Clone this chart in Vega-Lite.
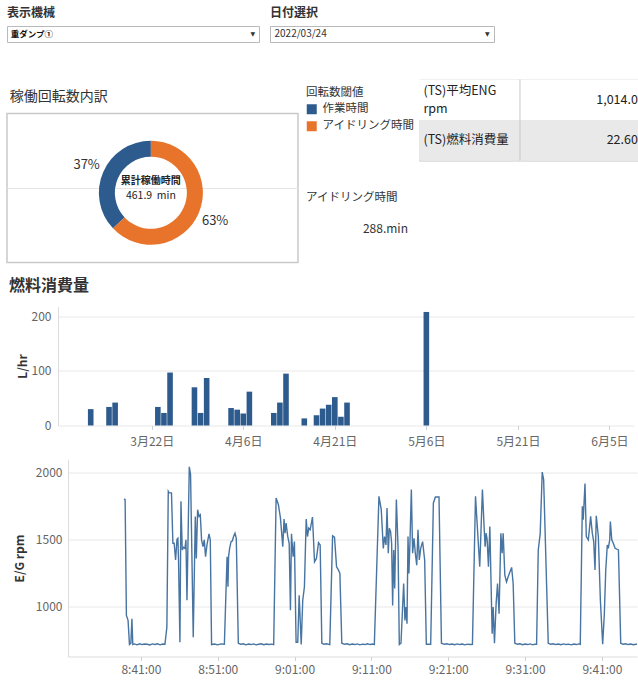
{
"$schema": "https://vega.github.io/schema/vega-lite/v6.json",
"background": "white",
"padding": {"left": 6, "top": 6, "right": 0, "bottom": 0},
"spacing": 13.5,
"vconcat": [
 {"spacing": 35.5, "vconcat": [
  {"spacing": 9, "hconcat": [
   {"title": {"text": "表示機械", "fontSize": 12, "fontWeight": "bold", "offset": 6, "frame": "group"},
    "width": 252, "height": 16,
    "view": {"stroke": "#b9b9b9", "fill": "white"},
    "data": {"values": [{"機械": "重ダンプ①"}]},
    "layer": [
     {"mark": {"type": "text", "align": "left", "fontSize": 8.5, "fontWeight": "bold", "color": "#111"},
      "encoding": {"x": {"datum": 0.015, "type": "quantitative", "scale": {"domain": [0, 1]}, "axis": null}, "text": {"field": "機械"}}},
     {"mark": {"type": "text", "text": "▼", "fontSize": 6, "font": "DejaVu Sans", "color": "#333"},
      "encoding": {"x": {"datum": 0.975, "type": "quantitative", "axis": null}}}
    ]},
   {"title": {"text": "日付選択", "fontSize": 12, "fontWeight": "bold", "offset": 6, "frame": "group"},
    "width": 224, "height": 16,
    "view": {"stroke": "#b9b9b9", "fill": "white"},
    "data": {"values": [{"日付": "2022/03/24"}]},
    "layer": [
     {"mark": {"type": "text", "align": "left", "fontSize": 10, "color": "#333"},
      "encoding": {"x": {"datum": 0.02, "type": "quantitative", "scale": {"domain": [0, 1]}, "axis": null}, "text": {"field": "日付"}}},
     {"mark": {"type": "text", "text": "▼", "fontSize": 6, "font": "DejaVu Sans", "color": "#333"},
      "encoding": {"x": {"datum": 0.97, "type": "quantitative", "axis": null}}}
    ]}
  ]},
  {"spacing": 8, "hconcat": [
   {"width": 403, "height": 183,
    "data": {"values": [{}]},
    "layer": [
     {"mark": {"type": "rect", "fill": "white", "stroke": "#c9c9c9", "strokeWidth": 1.5},
      "encoding": {"x": {"datum": 0, "type": "quantitative", "scale": {"domain": [0, 1]}, "axis": null}, "x2": {"datum": 0.722},
                   "y": {"datum": 0, "type": "quantitative", "scale": {"domain": [0, 1]}, "axis": null}, "y2": {"datum": 0.814}}},
     {"mark": {"type": "rule", "color": "#e4e4e4"},
      "encoding": {"x": {"datum": 0, "type": "quantitative", "axis": null}, "x2": {"datum": 0.722}, "y": {"datum": 0.404, "type": "quantitative", "axis": null}}},
     {"data": {"values": [{"区分": "作業時間", "割合": 0.37}, {"区分": "アイドリング時間", "割合": 0.63}]},
      "mark": {"type": "arc", "outerRadius": 52, "innerRadius": 36},
      "encoding": {
       "theta": {"field": "割合", "type": "quantitative", "stack": true},
       "order": {"field": "区分", "sort": "ascending"},
       "color": {"field": "区分", "type": "nominal", "scale": {"domain": ["作業時間", "アイドリング時間"], "range": ["#2e5b8d", "#e8742b"]},
                 "legend": {"orient": "none", "legendX": 299, "legendY": 61, "title": "回転数閾値", "titleFontSize": 11.5, "titleFontWeight": "normal", "titleColor": "#333", "labelFontSize": 11.5, "labelColor": "#333", "symbolType": "square", "symbolSize": 100, "symbolStrokeWidth": 0, "symbolOpacity": 1, "rowPadding": 4, "titlePadding": 5, "labelOffset": 5}},
       "x": {"datum": 0.357, "type": "quantitative", "axis": null},
       "y": {"datum": 0.381, "type": "quantitative", "axis": null}}},
     {"data": {"values": [{"区分": "作業時間", "割合": 0.37}, {"区分": "アイドリング時間", "割合": 0.63}]},
      "mark": {"type": "text", "radius": 70, "fontSize": 13, "color": "#333"},
      "encoding": {
       "theta": {"field": "割合", "type": "quantitative", "stack": true},
       "order": {"field": "区分", "sort": "ascending"},
       "text": {"field": "割合", "format": ".0%"},
       "x": {"datum": 0.357, "type": "quantitative", "axis": null},
       "y": {"datum": 0.381, "type": "quantitative", "axis": null}}},
     {"mark": {"type": "text", "text": "累計稼働時間", "fontSize": 10, "fontWeight": "bold", "color": "#222"},
      "encoding": {"x": {"datum": 0.357, "type": "quantitative", "axis": null}, "y": {"datum": 0.444, "type": "quantitative", "axis": null}}},
     {"mark": {"type": "text", "text": "461.9\u00a0\u00a0min", "fontSize": 10.5, "color": "#222"},
      "encoding": {"x": {"datum": 0.357, "type": "quantitative", "axis": null}, "y": {"datum": 0.362, "type": "quantitative", "axis": null}}},
     {"mark": {"type": "text", "text": "稼働回転数内訳", "fontSize": 14, "align": "left", "color": "#333"},
      "encoding": {"x": {"datum": 0.007, "type": "quantitative", "axis": null}, "y": {"datum": 0.907, "type": "quantitative", "axis": null}}},
     {"mark": {"type": "text", "text": "アイドリング時間", "fontSize": 11.5, "align": "left", "color": "#333"},
      "encoding": {"x": {"datum": 0.742, "type": "quantitative", "axis": null}, "y": {"datum": 0.355, "type": "quantitative", "axis": null}}},
     {"mark": {"type": "text", "text": "288.min", "fontSize": 12, "align": "right", "color": "#333"},
      "encoding": {"x": {"datum": 0.995, "type": "quantitative", "axis": null}, "y": {"datum": 0.183, "type": "quantitative", "axis": null}}}
    ]},
   {"width": 220, "height": 81,
    "view": {"stroke": "#c6c6c6"},
    "data": {"values": [{"指標": "(TS)平均ENG\nrpm", "値": "1,014.0"}, {"指標": "(TS)燃料消費量", "値": "22.60"}]},
    "layer": [
     {"mark": {"type": "rect"},
      "encoding": {"x": {"datum": 0, "type": "quantitative", "scale": {"domain": [0, 1]}, "axis": null}, "x2": {"datum": 1},
                   "y": {"field": "指標", "type": "nominal", "sort": null, "scale": {"paddingInner": 0, "paddingOuter": 0}, "axis": null},
                   "fill": {"condition": {"test": "datum['指標'] === '(TS)燃料消費量'", "value": "#e9e9e9"}, "value": "#ffffff"}}},
     {"transform": [{"filter": "datum['指標'] !== '(TS)燃料消費量'"}],
      "mark": {"type": "text", "align": "left", "fontSize": 12.5, "color": "#222", "lineBreak": "\n", "lineHeight": 18, "dy": -9},
      "encoding": {"x": {"datum": 0.02, "type": "quantitative", "axis": null}, "y": {"field": "指標", "type": "nominal", "sort": null, "axis": null}, "text": {"field": "指標"}}},
     {"transform": [{"filter": "datum['指標'] === '(TS)燃料消費量'"}],
      "mark": {"type": "text", "align": "left", "fontSize": 12.5, "color": "#222"},
      "encoding": {"x": {"datum": 0.02, "type": "quantitative", "axis": null}, "y": {"field": "指標", "type": "nominal", "sort": null, "axis": null}, "text": {"field": "指標"}}},
     {"mark": {"type": "text", "align": "right", "fontSize": 12.5, "color": "#222"},
      "encoding": {"x": {"datum": 0.995, "type": "quantitative", "axis": null}, "y": {"field": "指標", "type": "nominal", "sort": null, "axis": null}, "text": {"field": "値"}}},
     {"data": {"values": [{}]}, "mark": {"type": "rule", "color": "#c6c6c6"},
      "encoding": {"x": {"datum": 0.459, "type": "quantitative", "axis": null}}}
    ]}
  ]}
 ]},
 {"spacing": 9, "vconcat": [
 {"title": {"text": "燃料消費量", "fontSize": 16, "fontWeight": "bold", "offset": 10, "anchor": "start", "frame": "group", "dx": 2},
  "spacing": 0, "hconcat": [
  {"width": 9, "height": 1, "data": {"values": [{}]}, "mark": {"type": "point", "opacity": 0}, "encoding": {}},
  {"width": 576, "height": 119,
   "data": {"values": [
    {"日付": "2022-03-12T00:00:00", "燃料": 30},
    {"日付": "2022-03-15T00:00:00", "燃料": 34},
    {"日付": "2022-03-16T00:00:00", "燃料": 42},
    {"日付": "2022-03-23T00:00:00", "燃料": 34},
    {"日付": "2022-03-24T00:00:00", "燃料": 23},
    {"日付": "2022-03-25T00:00:00", "燃料": 97},
    {"日付": "2022-03-29T00:00:00", "燃料": 70},
    {"日付": "2022-03-30T00:00:00", "燃料": 23},
    {"日付": "2022-03-31T00:00:00", "燃料": 87},
    {"日付": "2022-04-04T00:00:00", "燃料": 32},
    {"日付": "2022-04-05T00:00:00", "燃料": 29},
    {"日付": "2022-04-06T00:00:00", "燃料": 22},
    {"日付": "2022-04-07T00:00:00", "燃料": 62},
    {"日付": "2022-04-11T00:00:00", "燃料": 23},
    {"日付": "2022-04-12T00:00:00", "燃料": 42},
    {"日付": "2022-04-13T00:00:00", "燃料": 95},
    {"日付": "2022-04-16T00:00:00", "燃料": 13},
    {"日付": "2022-04-18T00:00:00", "燃料": 19},
    {"日付": "2022-04-19T00:00:00", "燃料": 31},
    {"日付": "2022-04-20T00:00:00", "燃料": 38},
    {"日付": "2022-04-21T00:00:00", "燃料": 52},
    {"日付": "2022-04-22T00:00:00", "燃料": 16},
    {"日付": "2022-04-23T00:00:00", "燃料": 42},
    {"日付": "2022-05-06T00:00:00", "燃料": 208}
   ]},
   "mark": {"type": "bar", "width": 5.6, "color": "#2e5b8d"},
   "encoding": {
    "x": {"field": "日付", "type": "temporal",
          "scale": {"domain": [{"year": 2022, "month": 3, "date": 7, "hours": 11}, {"year": 2022, "month": 6, "date": 8, "hours": 5}]},
          "axis": {"values": [{"year": 2022, "month": 3, "date": 22}, {"year": 2022, "month": 4, "date": 6}, {"year": 2022, "month": 4, "date": 21}, {"year": 2022, "month": 5, "date": 6}, {"year": 2022, "month": 5, "date": 21}, {"year": 2022, "month": 6, "date": 5}],
                   "format": "%-m月%-d日", "title": null, "grid": false, "domain": false, "ticks": true, "tickSize": 4, "labelPadding": 7}},
    "y": {"field": "燃料", "type": "quantitative", "scale": {"domain": [0, 218], "nice": false},
          "axis": {"values": [0, 100, 200], "title": "L/hr", "grid": true, "ticks": false, "labelPadding": 7, "titlePadding": 2, "domain": true}}
   }}
 ]},
 {"spacing": 0, "hconcat": [
  {"width": 6, "height": 1, "data": {"values": [{}]}, "mark": {"type": "point", "opacity": 0}, "encoding": {}},
  {"width": 569, "height": 197,
   "data": {"values": [
    {"時刻": "2022-03-24T08:38:49", "回転数": 1805}, {"時刻": "2022-03-24T08:38:57", "回転数": 1800}, {"時刻": "2022-03-24T08:39:07", "回転数": 937}, {"時刻": "2022-03-24T08:39:20", "回転数": 900}, {"時刻": "2022-03-24T08:39:31", "回転数": 720}, {"時刻": "2022-03-24T08:39:42", "回転数": 730}, {"時刻": "2022-03-24T08:39:50", "回転数": 912}, {"時刻": "2022-03-24T08:39:57", "回転数": 720},
    {"時刻": "2022-03-24T08:40:10", "回転数": 725}, {"時刻": "2022-03-24T08:40:30", "回転数": 718}, {"時刻": "2022-03-24T08:40:50", "回転数": 726}, {"時刻": "2022-03-24T08:41:10", "回転数": 720}, {"時刻": "2022-03-24T08:41:30", "回転数": 724}, {"時刻": "2022-03-24T08:41:50", "回転数": 722}, {"時刻": "2022-03-24T08:42:10", "回転数": 717}, {"時刻": "2022-03-24T08:42:30", "回転数": 725}, {"時刻": "2022-03-24T08:42:50", "回転数": 721}, {"時刻": "2022-03-24T08:43:10", "回転数": 726}, {"時刻": "2022-03-24T08:43:30", "回転数": 718}, {"時刻": "2022-03-24T08:43:50", "回転数": 724}, {"時刻": "2022-03-24T08:44:08", "回転数": 722},
    {"時刻": "2022-03-24T08:44:23", "回転数": 850}, {"時刻": "2022-03-24T08:44:34", "回転数": 1862}, {"時刻": "2022-03-24T08:44:41", "回転数": 1850}, {"時刻": "2022-03-24T08:44:59", "回転数": 1850}, {"時刻": "2022-03-24T08:45:10", "回転数": 1475}, {"時刻": "2022-03-24T08:45:20", "回転数": 1475}, {"時刻": "2022-03-24T08:45:31", "回転数": 1350}, {"時刻": "2022-03-24T08:45:42", "回転数": 1505}, {"時刻": "2022-03-24T08:45:49", "回転数": 1512}, {"時刻": "2022-03-24T08:45:54", "回転数": 1350}, {"時刻": "2022-03-24T08:46:05", "回転数": 737}, {"時刻": "2022-03-24T08:46:13", "回転数": 1787}, {"時刻": "2022-03-24T08:46:23", "回転数": 1425}, {"時刻": "2022-03-24T08:46:33", "回転数": 1445}, {"時刻": "2022-03-24T08:46:44", "回転数": 1437}, {"時刻": "2022-03-24T08:46:52", "回転数": 1500}, {"時刻": "2022-03-24T08:47:00", "回転数": 1050}, {"時刻": "2022-03-24T08:47:10", "回転数": 1600}, {"時刻": "2022-03-24T08:47:18", "回転数": 2045}, {"時刻": "2022-03-24T08:47:28", "回転数": 1987}, {"時刻": "2022-03-24T08:47:49", "回転数": 775}, {"時刻": "2022-03-24T08:48:05", "回転数": 1675}, {"時刻": "2022-03-24T08:48:13", "回転数": 1362}, {"時刻": "2022-03-24T08:48:23", "回転数": 1725}, {"時刻": "2022-03-24T08:48:34", "回転数": 1675}, {"時刻": "2022-03-24T08:48:44", "回転数": 1687}, {"時刻": "2022-03-24T08:48:54", "回転数": 1500}, {"時刻": "2022-03-24T08:49:05", "回転数": 1450}, {"時刻": "2022-03-24T08:49:15", "回転数": 1500}, {"時刻": "2022-03-24T08:49:25", "回転数": 1375}, {"時刻": "2022-03-24T08:49:36", "回転数": 1462}, {"時刻": "2022-03-24T08:49:52", "回転数": 1545}, {"時刻": "2022-03-24T08:50:02", "回転数": 1500},
    {"時刻": "2022-03-24T08:50:12", "回転数": 720}, {"時刻": "2022-03-24T08:50:35", "回転数": 724}, {"時刻": "2022-03-24T08:51:00", "回転数": 718}, {"時刻": "2022-03-24T08:51:25", "回転数": 725}, {"時刻": "2022-03-24T08:51:52", "回転数": 722},
    {"時刻": "2022-03-24T08:52:13", "回転数": 1375}, {"時刻": "2022-03-24T08:52:20", "回転数": 1150}, {"時刻": "2022-03-24T08:52:25", "回転数": 1375}, {"時刻": "2022-03-24T08:52:33", "回転数": 1437}, {"時刻": "2022-03-24T08:52:44", "回転数": 1487}, {"時刻": "2022-03-24T08:52:54", "回転数": 1492}, {"時刻": "2022-03-24T08:53:04", "回転数": 1525}, {"時刻": "2022-03-24T08:53:15", "回転数": 1550}, {"時刻": "2022-03-24T08:53:25", "回転数": 1512},
    {"時刻": "2022-03-24T08:53:41", "回転数": 730}, {"時刻": "2022-03-24T08:54:00", "回転数": 722}, {"時刻": "2022-03-24T08:54:20", "回転数": 726}, {"時刻": "2022-03-24T08:54:40", "回転数": 718}, {"時刻": "2022-03-24T08:55:00", "回転数": 724}, {"時刻": "2022-03-24T08:55:20", "回転数": 720}, {"時刻": "2022-03-24T08:55:40", "回転数": 725}, {"時刻": "2022-03-24T08:56:00", "回転数": 718}, {"時刻": "2022-03-24T08:56:20", "回転数": 722}, {"時刻": "2022-03-24T08:56:40", "回転数": 726}, {"時刻": "2022-03-24T08:57:00", "回転数": 719}, {"時刻": "2022-03-24T08:57:20", "回転数": 724}, {"時刻": "2022-03-24T08:57:40", "回転数": 720}, {"時刻": "2022-03-24T08:58:00", "回転数": 723}, {"時刻": "2022-03-24T08:58:17", "回転数": 720},
    {"時刻": "2022-03-24T08:58:36", "回転数": 1812}, {"時刻": "2022-03-24T08:58:54", "回転数": 1762}, {"時刻": "2022-03-24T08:59:10", "回転数": 1662}, {"時刻": "2022-03-24T08:59:28", "回転数": 1450}, {"時刻": "2022-03-24T08:59:38", "回転数": 1655}, {"時刻": "2022-03-24T08:59:46", "回転数": 1550}, {"時刻": "2022-03-24T08:59:54", "回転数": 1625}, {"時刻": "2022-03-24T09:00:07", "回転数": 1525}, {"時刻": "2022-03-24T09:00:18", "回転数": 1475}, {"時刻": "2022-03-24T09:00:28", "回転数": 975}, {"時刻": "2022-03-24T09:00:36", "回転数": 1545}, {"時刻": "2022-03-24T09:00:49", "回転数": 1375}, {"時刻": "2022-03-24T09:00:59", "回転数": 1487}, {"時刻": "2022-03-24T09:01:12", "回転数": 737}, {"時刻": "2022-03-24T09:01:25", "回転数": 737}, {"時刻": "2022-03-24T09:01:36", "回転数": 1087}, {"時刻": "2022-03-24T09:01:52", "回転数": 720}, {"時刻": "2022-03-24T09:02:04", "回転数": 1050}, {"時刻": "2022-03-24T09:02:17", "回転数": 1150}, {"時刻": "2022-03-24T09:02:31", "回転数": 1655}, {"時刻": "2022-03-24T09:02:41", "回転数": 1525}, {"時刻": "2022-03-24T09:02:51", "回転数": 1587}, {"時刻": "2022-03-24T09:03:02", "回転数": 1575}, {"時刻": "2022-03-24T09:03:20", "回転数": 1670}, {"時刻": "2022-03-24T09:03:36", "回転数": 1337}, {"時刻": "2022-03-24T09:03:51", "回転数": 1362}, {"時刻": "2022-03-24T09:04:07", "回転数": 1480}, {"時刻": "2022-03-24T09:04:20", "回転数": 1462},
    {"時刻": "2022-03-24T09:04:33", "回転数": 730}, {"時刻": "2022-03-24T09:04:50", "回転数": 722}, {"時刻": "2022-03-24T09:05:10", "回転数": 726}, {"時刻": "2022-03-24T09:05:35", "回転数": 720},
    {"時刻": "2022-03-24T09:05:57", "回転数": 1530}, {"時刻": "2022-03-24T09:06:12", "回転数": 1520}, {"時刻": "2022-03-24T09:06:28", "回転数": 1300}, {"時刻": "2022-03-24T09:06:43", "回転数": 1275}, {"時刻": "2022-03-24T09:06:54", "回転数": 1250},
    {"時刻": "2022-03-24T09:07:09", "回転数": 730}, {"時刻": "2022-03-24T09:07:30", "回転数": 722}, {"時刻": "2022-03-24T09:07:50", "回転数": 726}, {"時刻": "2022-03-24T09:08:10", "回転数": 719}, {"時刻": "2022-03-24T09:08:30", "回転数": 724}, {"時刻": "2022-03-24T09:08:50", "回転数": 720}, {"時刻": "2022-03-24T09:09:10", "回転数": 725}, {"時刻": "2022-03-24T09:09:30", "回転数": 718}, {"時刻": "2022-03-24T09:09:50", "回転数": 723}, {"時刻": "2022-03-24T09:10:10", "回転数": 720}, {"時刻": "2022-03-24T09:10:30", "回転数": 726}, {"時刻": "2022-03-24T09:10:50", "回転数": 720}, {"時刻": "2022-03-24T09:11:10", "回転数": 724}, {"時刻": "2022-03-24T09:11:23", "回転数": 720},
    {"時刻": "2022-03-24T09:11:59", "回転数": 1825}, {"時刻": "2022-03-24T09:12:17", "回転数": 1725}, {"時刻": "2022-03-24T09:12:33", "回転数": 1437}, {"時刻": "2022-03-24T09:12:43", "回転数": 1525}, {"時刻": "2022-03-24T09:12:54", "回転数": 1462}, {"時刻": "2022-03-24T09:13:02", "回転数": 1737}, {"時刻": "2022-03-24T09:13:12", "回転数": 1400}, {"時刻": "2022-03-24T09:13:20", "回転数": 1587}, {"時刻": "2022-03-24T09:13:30", "回転数": 1562}, {"時刻": "2022-03-24T09:13:38", "回転数": 1475}, {"時刻": "2022-03-24T09:13:46", "回転数": 1012}, {"時刻": "2022-03-24T09:13:54", "回転数": 1425}, {"時刻": "2022-03-24T09:14:02", "回転数": 1137}, {"時刻": "2022-03-24T09:14:15", "回転数": 1800}, {"時刻": "2022-03-24T09:14:28", "回転数": 1450}, {"時刻": "2022-03-24T09:14:38", "回転数": 720}, {"時刻": "2022-03-24T09:14:51", "回転数": 730}, {"時刻": "2022-03-24T09:15:12", "回転数": 1175}, {"時刻": "2022-03-24T09:15:22", "回転数": 900}, {"時刻": "2022-03-24T09:15:30", "回転数": 1000}, {"時刻": "2022-03-24T09:15:38", "回転数": 875}, {"時刻": "2022-03-24T09:15:46", "回転数": 1525}, {"時刻": "2022-03-24T09:15:53", "回転数": 1250}, {"時刻": "2022-03-24T09:16:01", "回転数": 1475}, {"時刻": "2022-03-24T09:16:12", "回転数": 1875}, {"時刻": "2022-03-24T09:16:22", "回転数": 1400}, {"時刻": "2022-03-24T09:16:33", "回転数": 1512}, {"時刻": "2022-03-24T09:16:43", "回転数": 1400}, {"時刻": "2022-03-24T09:16:54", "回転数": 1312}, {"時刻": "2022-03-24T09:17:04", "回転数": 1575}, {"時刻": "2022-03-24T09:17:14", "回転数": 1350}, {"時刻": "2022-03-24T09:17:25", "回転数": 1437}, {"時刻": "2022-03-24T09:17:40", "回転数": 1487}, {"時刻": "2022-03-24T09:17:56", "回転数": 1350}, {"時刻": "2022-03-24T09:18:09", "回転数": 722}, {"時刻": "2022-03-24T09:18:43", "回転数": 722}, {"時刻": "2022-03-24T09:19:04", "回転数": 1775}, {"時刻": "2022-03-24T09:19:20", "回転数": 1820}, {"時刻": "2022-03-24T09:19:48", "回転数": 1820},
    {"時刻": "2022-03-24T09:20:07", "回転数": 730}, {"時刻": "2022-03-24T09:20:30", "回転数": 722}, {"時刻": "2022-03-24T09:20:50", "回転数": 726}, {"時刻": "2022-03-24T09:21:10", "回転数": 720}, {"時刻": "2022-03-24T09:21:30", "回転数": 724}, {"時刻": "2022-03-24T09:21:50", "回転数": 719}, {"時刻": "2022-03-24T09:22:10", "回転数": 725}, {"時刻": "2022-03-24T09:22:30", "回転数": 720}, {"時刻": "2022-03-24T09:22:50", "回転数": 724}, {"時刻": "2022-03-24T09:23:10", "回転数": 718}, {"時刻": "2022-03-24T09:23:30", "回転数": 723}, {"時刻": "2022-03-24T09:23:50", "回転数": 720}, {"時刻": "2022-03-24T09:24:09", "回転数": 722},
    {"時刻": "2022-03-24T09:24:33", "回転数": 1825}, {"時刻": "2022-03-24T09:25:06", "回転数": 1300}, {"時刻": "2022-03-24T09:25:27", "回転数": 1875}, {"時刻": "2022-03-24T09:25:40", "回転数": 1600}, {"時刻": "2022-03-24T09:25:48", "回転数": 1450}, {"時刻": "2022-03-24T09:25:56", "回転数": 1550}, {"時刻": "2022-03-24T09:26:04", "回転数": 1500}, {"時刻": "2022-03-24T09:26:14", "回転数": 1300}, {"時刻": "2022-03-24T09:26:25", "回転数": 1600}, {"時刻": "2022-03-24T09:26:35", "回転数": 1150}, {"時刻": "2022-03-24T09:26:43", "回転数": 800}, {"時刻": "2022-03-24T09:26:51", "回転数": 1000}, {"時刻": "2022-03-24T09:27:01", "回転数": 730}, {"時刻": "2022-03-24T09:27:14", "回転数": 1025}, {"時刻": "2022-03-24T09:27:25", "回転数": 1175}, {"時刻": "2022-03-24T09:27:37", "回転数": 950}, {"時刻": "2022-03-24T09:27:51", "回転数": 1550}, {"時刻": "2022-03-24T09:28:01", "回転数": 1400}, {"時刻": "2022-03-24T09:28:09", "回転数": 1550}, {"時刻": "2022-03-24T09:28:22", "回転数": 1237}, {"時刻": "2022-03-24T09:28:35", "回転数": 1187}, {"時刻": "2022-03-24T09:28:48", "回転数": 1225}, {"時刻": "2022-03-24T09:29:15", "回転数": 1295}, {"時刻": "2022-03-24T09:29:27", "回転数": 1175},
    {"時刻": "2022-03-24T09:29:40", "回転数": 730}, {"時刻": "2022-03-24T09:30:00", "回転数": 722}, {"時刻": "2022-03-24T09:30:20", "回転数": 726}, {"時刻": "2022-03-24T09:30:40", "回転数": 719}, {"時刻": "2022-03-24T09:31:00", "回転数": 724}, {"時刻": "2022-03-24T09:31:20", "回転数": 720}, {"時刻": "2022-03-24T09:31:40", "回転数": 725}, {"時刻": "2022-03-24T09:32:00", "回転数": 718}, {"時刻": "2022-03-24T09:32:15", "回転数": 723}, {"時刻": "2022-03-24T09:32:30", "回転数": 722},
    {"時刻": "2022-03-24T09:32:43", "回転数": 1425}, {"時刻": "2022-03-24T09:32:58", "回転数": 1545}, {"時刻": "2022-03-24T09:33:14", "回転数": 2005}, {"時刻": "2022-03-24T09:33:25", "回転数": 1950},
    {"時刻": "2022-03-24T09:34:01", "回転数": 730}, {"時刻": "2022-03-24T09:34:20", "回転数": 722}, {"時刻": "2022-03-24T09:34:40", "回転数": 726}, {"時刻": "2022-03-24T09:35:00", "回転数": 720}, {"時刻": "2022-03-24T09:35:20", "回転数": 724}, {"時刻": "2022-03-24T09:35:40", "回転数": 719}, {"時刻": "2022-03-24T09:36:00", "回転数": 725}, {"時刻": "2022-03-24T09:36:20", "回転数": 720}, {"時刻": "2022-03-24T09:36:40", "回転数": 723}, {"時刻": "2022-03-24T09:37:00", "回転数": 718}, {"時刻": "2022-03-24T09:37:20", "回転数": 724}, {"時刻": "2022-03-24T09:37:40", "回転数": 720}, {"時刻": "2022-03-24T09:38:00", "回転数": 725}, {"時刻": "2022-03-24T09:38:11", "回転数": 722},
    {"時刻": "2022-03-24T09:38:27", "回転数": 1750}, {"時刻": "2022-03-24T09:38:34", "回転数": 1650}, {"時刻": "2022-03-24T09:38:48", "回転数": 1920}, {"時刻": "2022-03-24T09:38:58", "回転数": 1525}, {"時刻": "2022-03-24T09:39:14", "回転数": 1500}, {"時刻": "2022-03-24T09:39:32", "回転数": 1675}, {"時刻": "2022-03-24T09:39:45", "回転数": 1550}, {"時刻": "2022-03-24T09:39:56", "回転数": 1487}, {"時刻": "2022-03-24T09:40:06", "回転数": 1275}, {"時刻": "2022-03-24T09:40:16", "回転数": 1680}, {"時刻": "2022-03-24T09:40:32", "回転数": 1525}, {"時刻": "2022-03-24T09:40:48", "回転数": 1050}, {"時刻": "2022-03-24T09:41:06", "回転数": 722}, {"時刻": "2022-03-24T09:41:19", "回転数": 950}, {"時刻": "2022-03-24T09:41:30", "回転数": 1275}, {"時刻": "2022-03-24T09:41:42", "回転数": 1462}, {"時刻": "2022-03-24T09:41:50", "回転数": 1437}, {"時刻": "2022-03-24T09:42:01", "回転数": 1500}, {"時刻": "2022-03-24T09:42:06", "回転数": 1637}, {"時刻": "2022-03-24T09:42:17", "回転数": 1500}, {"時刻": "2022-03-24T09:42:29", "回転数": 1475}, {"時刻": "2022-03-24T09:42:43", "回転数": 1437}, {"時刻": "2022-03-24T09:43:09", "回転数": 1425},
    {"時刻": "2022-03-24T09:43:27", "回転数": 730}, {"時刻": "2022-03-24T09:43:45", "回転数": 722}, {"時刻": "2022-03-24T09:44:05", "回転数": 726}, {"時刻": "2022-03-24T09:44:25", "回転数": 720}, {"時刻": "2022-03-24T09:44:45", "回転数": 724}, {"時刻": "2022-03-24T09:45:05", "回転数": 719}, {"時刻": "2022-03-24T09:45:25", "回転数": 722}, {"時刻": "2022-03-24T09:45:34", "回転数": 722}
   ]},
   "mark": {"type": "line", "color": "#4874a2", "strokeWidth": 1.4},
   "encoding": {
    "x": {"field": "時刻", "type": "temporal",
          "scale": {"domain": [{"year": 2022, "month": 3, "date": 24, "hours": 8, "minutes": 31, "seconds": 31}, {"year": 2022, "month": 3, "date": 24, "hours": 9, "minutes": 45, "seconds": 34}]},
          "axis": {"values": [{"year": 2022, "month": 3, "date": 24, "hours": 8, "minutes": 41}, {"year": 2022, "month": 3, "date": 24, "hours": 8, "minutes": 51}, {"year": 2022, "month": 3, "date": 24, "hours": 9, "minutes": 1}, {"year": 2022, "month": 3, "date": 24, "hours": 9, "minutes": 11}, {"year": 2022, "month": 3, "date": 24, "hours": 9, "minutes": 21}, {"year": 2022, "month": 3, "date": 24, "hours": 9, "minutes": 31}, {"year": 2022, "month": 3, "date": 24, "hours": 9, "minutes": 41}],
                   "format": "%-H:%M:%S", "title": null, "grid": false, "domain": true, "ticks": true, "tickSize": 4, "labelPadding": 4}},
    "y": {"field": "回転数", "type": "quantitative", "scale": {"domain": [631, 2099], "nice": false, "zero": false},
          "axis": {"values": [1000, 1500, 2000], "format": "d", "title": "E/G rpm", "grid": true, "ticks": false, "labelPadding": 6, "titlePadding": 9, "domain": true}}
   }}
 ]}
 ]}
],
"config": {
 "view": {"stroke": null},
 "font": "Noto Sans CJK JP",
 "axis": {"labelFont": "Noto Sans CJK JP", "labelFontSize": 12, "labelColor": "#666666", "titleFont": "Noto Sans CJK JP", "titleFontSize": 12, "titleColor": "#333333", "titleFontWeight": "bold", "gridColor": "#e8e8e8", "domainColor": "#dcdcdc", "tickColor": "#d0d0d0"},
 "title": {"font": "Noto Sans CJK JP", "anchor": "start", "color": "#333333"},
 "legend": {"labelFont": "Noto Sans CJK JP", "titleFont": "Noto Sans CJK JP"}
}
}
